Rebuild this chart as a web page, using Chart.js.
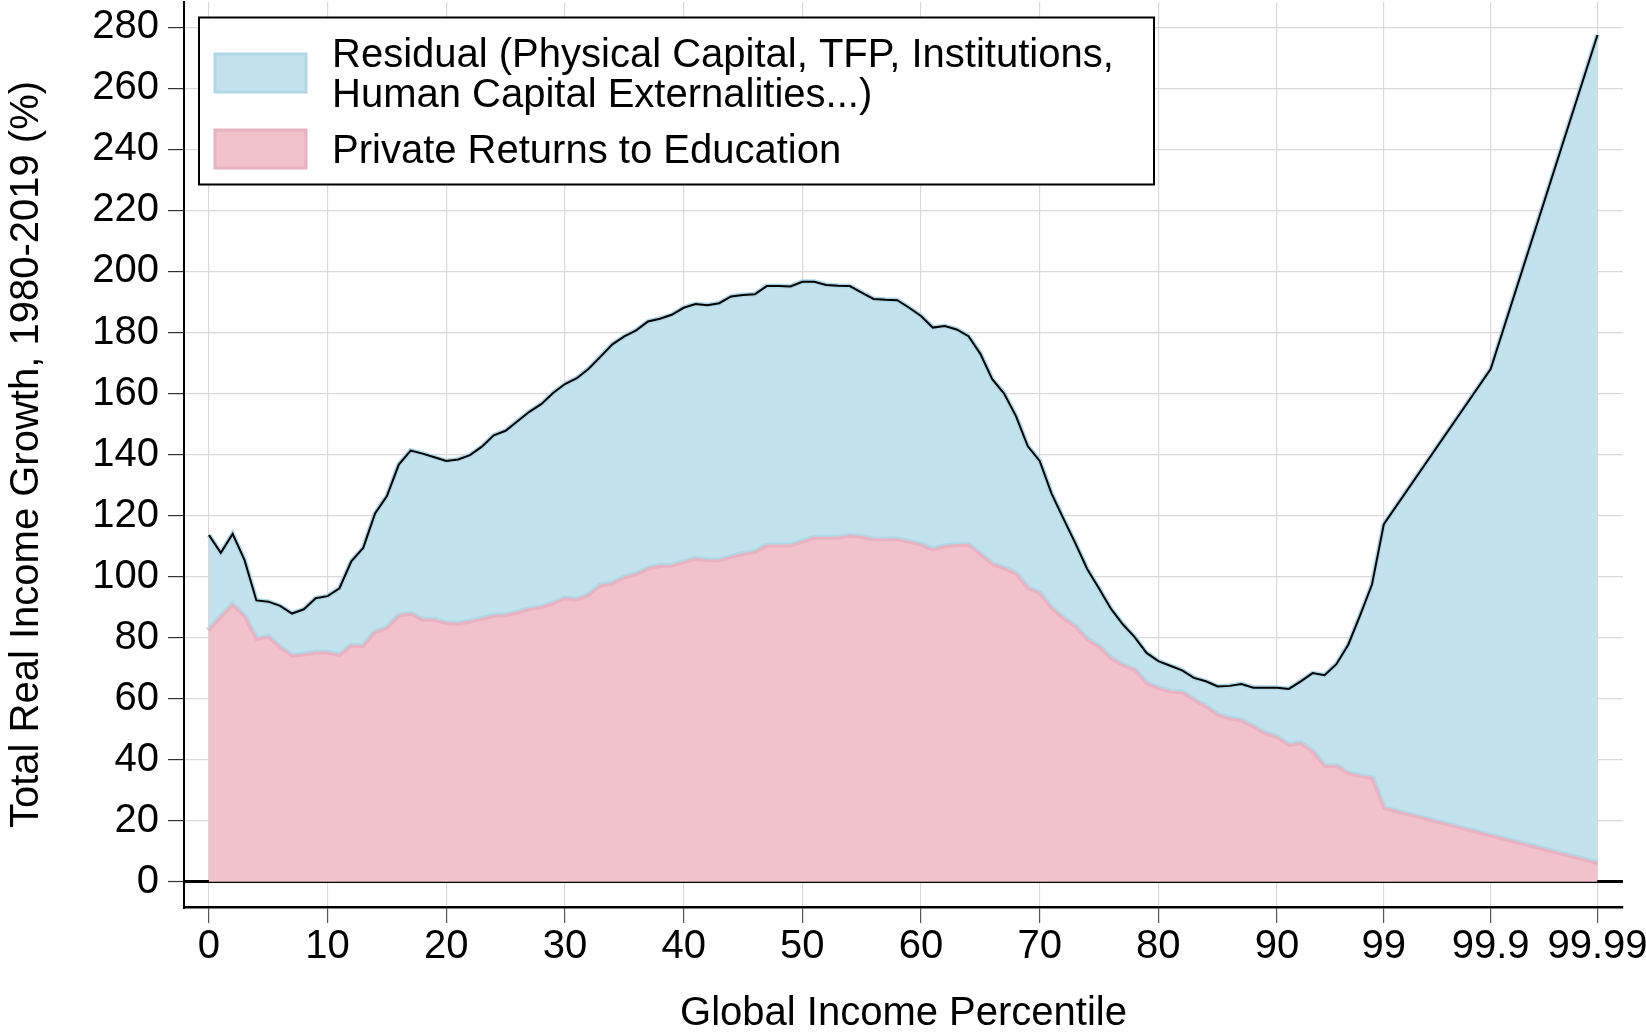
<!DOCTYPE html>
<html>
<head>
<meta charset="utf-8">
<script src="https://cdn.jsdelivr.net/npm/chart.js@4/dist/chart.umd.min.js"></script>
<style>
  html, body { margin: 0; padding: 0; background: #fff; }
</style>
</head>
<body>
<canvas id="growthChart" width="1646" height="1033"></canvas>
<script>
// percentile groups: 0..99, then the top tail
const percentiles = [];
for (let p = 0; p <= 99; p++) percentiles.push(String(p));
percentiles.push("99.9", "99.99");

// total real income growth 1980-2019 (%)
const totalGrowth = [
  113.6, 107.8, 114.0, 105.4, 92.2, 91.8, 90.4, 87.9, 89.3, 92.9,
  93.6, 96.2, 105.0, 109.4, 120.7, 126.4, 136.7, 141.3, 140.3, 139.1,
  137.9, 138.4, 139.8, 142.6, 146.3, 147.8, 150.9, 154.0, 156.5, 160.2,
  163.1, 165.0, 168.1, 172.1, 176.1, 178.7, 180.7, 183.6, 184.5, 185.8,
  188.1, 189.3, 188.9, 189.6, 191.8, 192.3, 192.5, 195.2, 195.2, 195.1,
  196.6, 196.6, 195.6, 195.3, 195.2, 193.1, 191.0, 190.7, 190.6, 188.1,
  185.4, 181.6, 182.1, 181.0, 178.8, 173.0, 164.7, 160.0, 152.6, 142.7,
  137.9, 127.2, 119.0, 111.0, 102.5, 96.1, 89.5, 84.4, 80.2, 75.0,
  72.3, 70.8, 69.3, 66.8, 65.7, 64.0, 64.2, 64.8, 63.6, 63.6,
  63.6, 63.2, 65.7, 68.4, 67.7, 71.3, 77.7, 87.3, 97.4, 117.2,
  168.0, 277.5
];

// part explained by private returns to education (%)
const educReturns = [
  82.2, 86.6, 90.6, 86.8, 79.3, 80.2, 76.7, 73.9, 74.3, 75.0,
  75.0, 74.1, 77.2, 77.0, 81.6, 83.0, 87.0, 87.7, 85.7, 85.7,
  84.6, 84.4, 85.1, 86.0, 87.0, 87.2, 88.1, 89.2, 89.8, 91.1,
  92.7, 92.3, 93.8, 96.9, 97.6, 99.6, 100.6, 102.5, 103.3, 103.4,
  104.6, 105.7, 105.2, 105.1, 106.3, 107.2, 107.9, 110.0, 110.0, 110.0,
  111.3, 112.6, 112.6, 112.6, 113.2, 112.9, 112.0, 112.0, 112.1, 111.3,
  110.3, 108.7, 109.8, 110.2, 110.3, 107.2, 104.0, 102.6, 100.8, 96.1,
  94.4, 89.5, 86.2, 83.5, 79.3, 76.9, 73.1, 70.9, 69.3, 64.9,
  63.3, 62.2, 61.9, 59.5, 57.3, 54.5, 53.4, 52.7, 50.7, 48.5,
  47.2, 44.7, 45.2, 42.5, 37.8, 37.8, 35.4, 34.5, 33.8, 24.0,
  15.0, 6.0
];

const xTickLabels = ["0", "10", "20", "30", "40", "50", "60", "70", "80", "90", "99", "99.9", "99.99"];
const yTickValues = [0, 20, 40, 60, 80, 100, 120, 140, 160, 180, 200, 220, 240, 260, 280];

// the top tail groups are spread out 9 units apart on the axis
const axisRank = percentiles.map((p, i) => (i < 100 ? i : 99 + 9 * (i - 99)));
const rankOf = (label) => axisRank[percentiles.indexOf(label)];
const toPoints = (values) => values.map((v, i) => ({ x: axisRank[i], y: v }));

const FONT = '"Liberation Sans", Arial, Helvetica, sans-serif';
const blueFill = "#c2e2ee";
const blueLine = "#b0d8e7";
const pinkFill = "#f1c1cc";
const pinkLine = "#e9b2c0";

// keep the plot area fixed, labels may hang over the edges
const noLabelPadding = (scale) => {
  scale.paddingTop = 0;
  scale.paddingBottom = 0;
  scale.paddingLeft = 0;
  scale.paddingRight = 0;
};

const legendPlugin = {
  id: "boxLegend",
  afterDraw(chart) {
    const ctx = chart.ctx;
    ctx.save();
    ctx.fillStyle = "#fff";
    ctx.fillRect(199, 17.5, 955, 167);
    ctx.lineWidth = 2;
    ctx.strokeStyle = "#000";
    ctx.strokeRect(199, 17.5, 955, 167);

    ctx.lineWidth = 3;
    ctx.fillStyle = blueFill;
    ctx.strokeStyle = blueLine;
    ctx.fillRect(215, 54, 91, 38);
    ctx.strokeRect(215, 54, 91, 38);
    ctx.fillStyle = pinkFill;
    ctx.strokeStyle = pinkLine;
    ctx.fillRect(215, 130, 91, 38);
    ctx.strokeRect(215, 130, 91, 38);

    ctx.fillStyle = "#000";
    ctx.font = "40px " + FONT;
    ctx.textBaseline = "alphabetic";
    ctx.textAlign = "left";
    ctx.fillText("Residual (Physical Capital, TFP, Institutions,", 332, 67);
    ctx.fillText("Human Capital Externalities...)", 332, 107);
    ctx.fillText("Private Returns to Education", 332, 163);
    ctx.restore();
  },
};

const growthCtx = document.getElementById("growthChart").getContext("2d");
new Chart(growthCtx, {
  type: "line",
  data: {
    datasets: [
      {
        label: "Total",
        data: toPoints(totalGrowth),
        borderColor: "#000",
        borderWidth: 2,
        pointRadius: 0,
        fill: false,
        order: 0,
      },
      {
        label: "Private Returns to Education",
        data: toPoints(educReturns),
        borderColor: pinkLine,
        backgroundColor: pinkFill,
        borderWidth: 3,
        pointRadius: 0,
        fill: "origin",
        order: 1,
      },
      {
        label: "edge",
        data: toPoints(educReturns),
        borderColor: blueLine,
        borderWidth: 7,
        pointRadius: 0,
        fill: false,
        order: 2,
      },
      {
        label: "Residual",
        data: toPoints(totalGrowth),
        borderColor: blueLine,
        backgroundColor: blueFill,
        borderWidth: 5,
        pointRadius: 0,
        fill: 1,
        order: 3,
      },
    ],
  },
  options: {
    responsive: false,
    animation: false,
    devicePixelRatio: 1,
    layout: { padding: { top: 2, right: 23, left: 0, bottom: 0 } },
    plugins: {
      legend: { display: false },
      tooltip: { enabled: false },
    },
    scales: {
      x: {
        type: "linear",
        min: -2.1,
        max: 119.15,
        afterFit: (scale) => {
          scale.height = 126;
          noLabelPadding(scale);
        },
        afterBuildTicks: (scale) => {
          scale.ticks = xTickLabels.map((l) => ({ value: rankOf(l) }));
        },
        grid: {
          color: "#d9d9d9",
          lineWidth: 1.2,
          tickColor: "#555",
          tickWidth: 1.2,
          tickLength: 16,
        },
        border: { display: true, color: "#000", width: 2.5 },
        ticks: {
          color: "#000",
          padding: 0,
          maxRotation: 0,
          autoSkip: false,
          font: { family: FONT, size: 40, lineHeight: 1.2 },
          callback: (value) => {
            const i = axisRank.indexOf(value);
            return i >= 0 ? percentiles[i] : "";
          },
        },
        title: {
          display: true,
          text: "Global Income Percentile",
          color: "#000",
          padding: 0,
          font: { family: FONT, size: 40, lineHeight: 0.95 },
        },
      },
      y: {
        type: "linear",
        min: -8.26,
        max: 288.3,
        afterFit: (scale) => {
          scale.width = 184;
          noLabelPadding(scale);
        },
        afterBuildTicks: (scale) => {
          scale.ticks = yTickValues.map((v) => ({ value: v }));
        },
        grid: {
          color: (c) => (c.tick && c.tick.value === 0 ? "#000" : "#d9d9d9"),
          lineWidth: (c) => (c.tick && c.tick.value === 0 ? 3 : 1.2),
          tickColor: "#333",
          tickWidth: 1.2,
          tickLength: 16,
        },
        border: { display: true, color: "#000", width: 2 },
        ticks: {
          color: "#000",
          padding: 9,
          font: { family: FONT, size: 40, lineHeight: 1.2 },
        },
        title: {
          display: true,
          text: "Total Real Income Growth, 1980-2019 (%)",
          color: "#000",
          padding: { top: 7, bottom: 0 },
          font: { family: FONT, size: 40, lineHeight: 1 },
        },
      },
    },
  },
  plugins: [legendPlugin],
});
</script>
</body>
</html>
